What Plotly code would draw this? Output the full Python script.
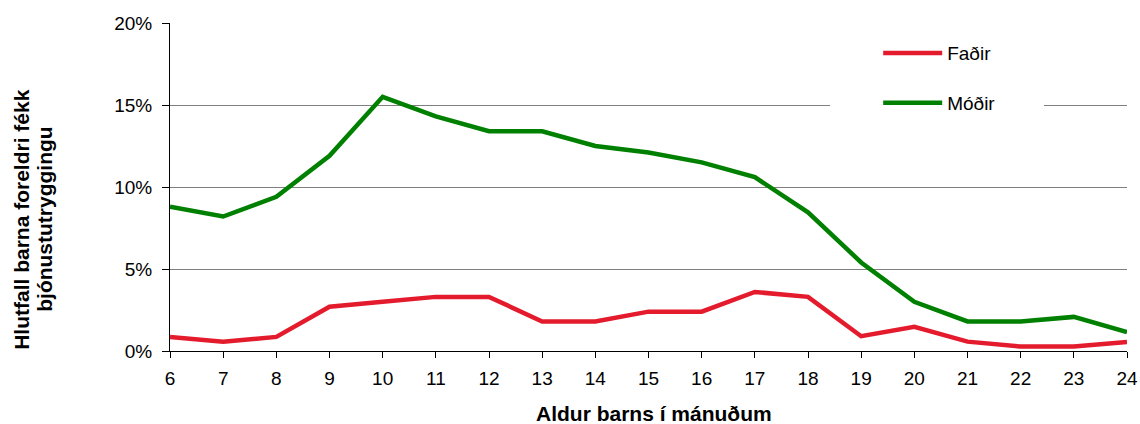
import plotly.graph_objects as go

months = list(range(6, 25))
fadir = [0.86, 0.57, 0.86, 2.7, 3.0, 3.3, 3.3, 1.8, 1.8, 2.4, 2.4, 3.6, 3.3, 0.9, 1.47, 0.57, 0.27, 0.27, 0.55]
modir = [8.8, 8.2, 9.4, 11.9, 15.5, 14.3, 13.4, 13.4, 12.5, 12.1, 11.5, 10.6, 8.46, 5.4, 3.0, 1.8, 1.8, 2.08, 1.16]
y_ticks = [0, 0.05, 0.10, 0.15, 0.20]
y_labels = ["0%", "5%", "10%", "15%", "20%"]

FONT = "Liberation Sans, Arial, sans-serif"

fig = go.Figure()
fig.add_trace(go.Scatter(x=months, y=[v / 100 for v in fadir], name="Faðir", mode="lines",
                         line=dict(color="#E31B2C", width=4.5), legendgroup="a"))
fig.add_trace(go.Scatter(x=months, y=[v / 100 for v in modir], name="Móðir", mode="lines",
                         line=dict(color="#008000", width=4.5), legendgroup="b"))

# white legend backdrop (no data passes through this region)
fig.add_shape(type="rect", xref="paper", yref="paper", x0=0.6897, x1=0.9133, y0=0.674, y1=0.979,
              fillcolor="white", line=dict(width=0), layer="above")

fig.update_layout(
    width=1140, height=424,
    margin=dict(l=170, r=13, t=23, b=73),
    paper_bgcolor="white", plot_bgcolor="white",
    font=dict(family=FONT, size=19, color="black"),
    showlegend=True,
    legend=dict(x=0.74, y=0.966, xanchor="left", yanchor="top", bgcolor="rgba(0,0,0,0)",
                traceorder="grouped", tracegroupgap=22, itemwidth=59,
                font=dict(family=FONT, size=19, color="black")),
    xaxis=dict(range=[6, 24], tickmode="array", tickvals=months, ticktext=[str(m) for m in months],
               showgrid=False, showline=True, linecolor="black", linewidth=1,
               ticks="outside", ticklen=6, tickcolor="black", zeroline=False, automargin=False,
               tickfont=dict(size=19), ticklabelstandoff=4),
    yaxis=dict(range=[0, 0.2], tickmode="array", tickvals=y_ticks, ticktext=y_labels,
               showgrid=True, gridcolor="#7f7f7f", gridwidth=1,
               showline=True, linecolor="black", linewidth=1, automargin=False,
               ticks="outside", ticklen=7, tickcolor="black", zeroline=False,
               tickfont=dict(size=19), ticklabelstandoff=6),
    annotations=[
        dict(text="<b>Aldur barns í mánuðum</b>", xref="paper", yref="paper", x=0.5057, y=-0.192,
             xanchor="center", yanchor="middle", showarrow=False, font=dict(size=21)),
        dict(text="<b>Hlutfall barna foreldri fékk</b>", xref="paper", yref="paper", x=-0.156, y=0.402,
             xanchor="center", yanchor="middle", showarrow=False, textangle=-90, font=dict(size=21)),
        dict(text="<b>bjónustutryggingu</b>", xref="paper", yref="paper", x=-0.131, y=0.402,
             xanchor="center", yanchor="middle", showarrow=False, textangle=-90, font=dict(size=21)),
    ],
)

fig.write_html("out.html", config={"displayModeBar": False},
               post_script="document.body.style.margin='0';document.body.style.overflow='hidden';")
